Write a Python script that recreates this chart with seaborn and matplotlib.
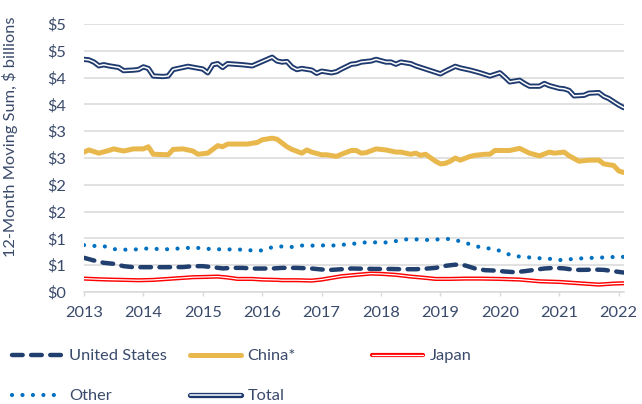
import matplotlib
matplotlib.use("Agg")
import matplotlib.pyplot as plt
import matplotlib.patheffects as pe
import seaborn as sns

# x axis: months since Jan 2013
years = [2013, 2014, 2015, 2016, 2017, 2018, 2019, 2020, 2021, 2022]
ytick_values = [0, 0.5, 1, 1.5, 2, 2.5, 3, 3.5, 4, 4.5, 5]
ytick_labels = ["$0", "$1", "$1", "$2", "$2", "$3", "$3", "$4", "$4", "$5", "$5"]

us_m = [0, 2, 4, 6, 8, 10, 12, 16, 20, 22, 24, 26, 28, 30, 32, 34, 36, 38, 40, 43,
        46, 48, 50, 52, 54, 56, 59, 62, 64, 67, 69, 71, 73, 75, 77, 79, 81, 83, 85, 87,
        89, 91, 93, 95, 97, 99, 101, 103, 105, 107, 109]
us_v = [0.638, 0.588, 0.545, 0.526, 0.482, 0.463, 0.463, 0.463, 0.465, 0.482,
        0.482, 0.463, 0.44, 0.45, 0.45, 0.438, 0.438, 0.438, 0.45, 0.45,
        0.438, 0.42, 0.413, 0.425, 0.438, 0.435, 0.43, 0.43, 0.425, 0.425,
        0.435, 0.45, 0.488, 0.51, 0.495, 0.438, 0.407, 0.40, 0.382, 0.37,
        0.388, 0.413, 0.438, 0.45, 0.44, 0.413, 0.413, 0.418, 0.413, 0.388, 0.363]

china_m = [0, 1, 3, 5, 6, 8, 10, 12, 13, 14, 17, 18, 20, 22, 23, 25, 27, 28, 29, 31,
           33, 35, 36, 38, 39, 40, 41, 42, 44, 45, 46, 48, 49, 51, 52, 54, 55, 56, 57, 59,
           61, 63, 64, 66, 67, 68, 69, 71, 72, 73, 74, 75, 76, 78, 79, 81, 82, 83, 85, 86,
           88, 90, 92, 94, 95, 97, 98, 100, 102, 104, 105, 107, 108, 109]
china_v = [2.61, 2.65, 2.59, 2.64, 2.67, 2.63, 2.67, 2.67, 2.71, 2.57,
           2.56, 2.66, 2.67, 2.63, 2.57, 2.59, 2.73, 2.71, 2.76, 2.76,
           2.76, 2.79, 2.84, 2.87, 2.85, 2.78, 2.71, 2.66, 2.59, 2.65,
           2.61, 2.56, 2.56, 2.53, 2.57, 2.64, 2.64, 2.59, 2.60, 2.67,
           2.65, 2.61, 2.61, 2.57, 2.59, 2.55, 2.57, 2.44, 2.39, 2.40,
           2.44, 2.50, 2.46, 2.53, 2.55, 2.57, 2.57, 2.64, 2.64, 2.64,
           2.68, 2.59, 2.54, 2.61, 2.59, 2.61, 2.54, 2.44, 2.46, 2.46,
           2.39, 2.36, 2.26, 2.23]

japan_m = [0, 3, 5, 8, 11, 14, 16, 19, 22, 24, 27, 29, 31, 34, 36, 39, 40, 43, 46, 48,
           50, 52, 55, 58, 60, 63, 66, 69, 71, 74, 77, 80, 84, 88, 92, 96, 100, 104, 107, 109]
japan_v = [0.25, 0.238, 0.232, 0.226, 0.219, 0.226, 0.238, 0.257, 0.276, 0.28,
           0.288, 0.27, 0.244, 0.244, 0.232, 0.226, 0.22, 0.22, 0.213, 0.232,
           0.263, 0.294, 0.32, 0.344, 0.338, 0.32, 0.288, 0.263, 0.244, 0.244,
           0.25, 0.25, 0.244, 0.232, 0.20, 0.188, 0.163, 0.138, 0.157, 0.163]

other_m = [0, 2, 4, 6, 8, 10, 12, 14, 16, 18, 20, 22, 24, 26, 28, 30, 32, 34, 36, 38,
           40, 42, 44, 46, 48, 50, 52, 54, 56, 58, 60, 62, 64, 66, 68, 70, 72, 74, 76, 78,
           80, 82, 84, 86, 88, 90, 92, 94, 96, 98, 100, 102, 104, 106, 108, 109]
other_v = [0.875, 0.86, 0.855, 0.80, 0.79, 0.79, 0.81, 0.81, 0.79, 0.81,
           0.81, 0.835, 0.81, 0.80, 0.795, 0.795, 0.79, 0.775, 0.775, 0.835,
           0.85, 0.84, 0.867, 0.865, 0.87, 0.865, 0.88, 0.895, 0.92, 0.93,
           0.92, 0.93, 0.97, 0.99, 0.975, 0.97, 0.985, 0.99, 0.945, 0.89,
           0.835, 0.81, 0.77, 0.695, 0.66, 0.645, 0.63, 0.62, 0.595, 0.61,
           0.625, 0.635, 0.64, 0.65, 0.655, 0.655]

total_m = [0, 1, 2, 3, 4, 5, 7, 8, 10, 11, 12, 13, 14, 16, 17, 18, 21, 24, 25, 26,
           27, 28, 29, 32, 34, 35, 36, 38, 39, 40, 41, 42, 43, 44, 46, 47, 48, 50, 51, 52,
           54, 55, 56, 58, 59, 61, 62, 63, 64, 66, 67, 69, 70, 72, 73, 75, 76, 78, 80, 82,
           84, 85, 86, 88, 89, 90, 92, 93, 94, 96, 97, 98, 99, 101, 102, 104, 105, 106, 108, 109]
total_v = [4.34, 4.33, 4.29, 4.22, 4.24, 4.22, 4.19, 4.13, 4.14, 4.15,
           4.20, 4.17, 4.03, 4.02, 4.03, 4.15, 4.21, 4.16, 4.09, 4.24,
           4.26, 4.19, 4.26, 4.24, 4.22, 4.26, 4.30, 4.38, 4.31, 4.29,
           4.30, 4.20, 4.15, 4.17, 4.14, 4.08, 4.12, 4.09, 4.11, 4.16,
           4.25, 4.26, 4.29, 4.31, 4.34, 4.29, 4.29, 4.25, 4.29, 4.26,
           4.22, 4.16, 4.13, 4.07, 4.12, 4.21, 4.18, 4.14, 4.09, 4.03,
           4.09, 4.01, 3.92, 3.95, 3.89, 3.84, 3.84, 3.89, 3.85, 3.80,
           3.79, 3.76, 3.66, 3.67, 3.71, 3.72, 3.65, 3.61, 3.49, 3.44]


def to_year(months):
    return [2013 + m / 12 for m in months]


sns.set_theme(style="white")
plt.rcParams["font.family"] = ["Lato", "DejaVu Sans"]

text_color = "#3A4A6B"
grid_color = "#D9D9D9"
navy = "#1F3A6E"

fig = plt.figure(figsize=(6.42, 4.04), dpi=100)
ax = fig.add_axes([84 / 642, 1 - 292 / 404, (623.6 - 84) / 642, 268 / 404])

sns.lineplot(x=to_year(us_m), y=us_v, ax=ax, color="#22406F", lw=3.2,
             linestyle=(0, (2.4, 1.9)), dash_capstyle="round",
             label="United States", legend=False)
sns.lineplot(x=to_year(china_m), y=china_v, ax=ax, color="#E9B84C", lw=3.6,
             solid_capstyle="round", label="China*", legend=False)
sns.lineplot(x=to_year(japan_m), y=japan_v, ax=ax, color="white", lw=0.9,
             path_effects=[pe.Stroke(linewidth=3.0, foreground="#FF0000"), pe.Normal()],
             label="Japan", legend=False)
sns.lineplot(x=to_year(other_m), y=other_v, ax=ax, color="#0070C0", lw=3.0,
             linestyle=(0, (0.01, 2.5)), dash_capstyle="round",
             label="Other", legend=False)
sns.lineplot(x=to_year(total_m), y=total_v, ax=ax, color="white", lw=1.1,
             path_effects=[pe.Stroke(linewidth=3.8, foreground=navy), pe.Normal()],
             label="Total", legend=False)

ax.set_xlim(2013, 2013 + 109 / 12)
ax.set_ylim(0, 5)
ax.set_xticks(years)
ax.set_xticklabels([str(y) for y in years])
ax.set_yticks(ytick_values)
ax.set_yticklabels(ytick_labels)
ax.tick_params(axis="y", length=0, pad=13, labelsize=11.8, labelcolor=text_color)
ax.tick_params(axis="x", length=3, width=1, color=grid_color, direction="out",
               pad=7, labelsize=11.8, labelcolor=text_color, bottom=True)
ax.yaxis.grid(True, color=grid_color, lw=1.1)
ax.xaxis.grid(False)
ax.set_axisbelow(True)
for side in ["left", "top", "right"]:
    ax.spines[side].set_visible(False)
ax.spines["bottom"].set_color(grid_color)
ax.spines["bottom"].set_linewidth(1.1)

ax.set_xlabel("")
ax.set_ylabel("12-Month Moving Sum, $ billions", fontsize=11.8, color=text_color)
ax.yaxis.set_label_coords(-0.122, 0.58)

handles, labels = ax.get_legend_handles_labels()
hmap = dict(zip(labels, handles))
leg_kw = dict(loc="upper left", frameon=False, handlelength=3.1, handletextpad=0.4,
              labelspacing=1.55, borderpad=0, borderaxespad=0, fontsize=11.8,
              labelcolor=text_color)
columns = [(["United States", "Other"], 12), (["China*", "Total"], 190), (["Japan"], 372)]
for names, xpx in columns:
    fig.legend([hmap[n] for n in names], names,
               bbox_to_anchor=(xpx / 642, 1 - 349 / 404), **leg_kw)

fig.savefig("out.png", dpi=100)
